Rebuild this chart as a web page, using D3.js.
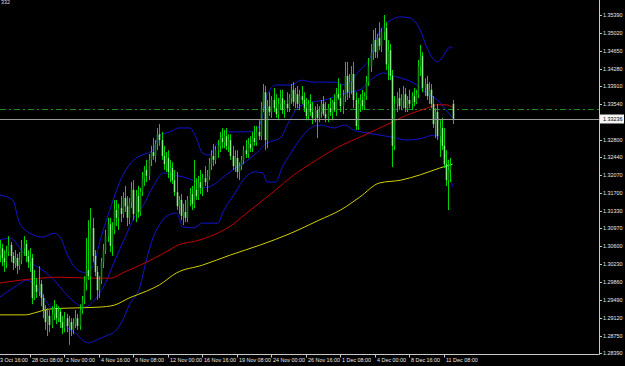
<!DOCTYPE html>
<style>
body { margin: 0; background: #000; }
svg { display: block; font-family: 'Liberation Sans', Arial, sans-serif; }
</style>
<svg width="625" height="366"></svg>
<script src="https://d3js.org/d3.v7.min.js"></script>
<script>
// price axis labels (MT4 style, right side)
var priceTicks = [1.35390, 1.35020, 1.34650, 1.34280, 1.33910, 1.33540, 1.32800, 1.32440,
  1.32070, 1.31700, 1.31330, 1.30970, 1.30600, 1.30230, 1.29860, 1.29490, 1.29120, 1.28750, 1.28390];

// time axis labels and the bar each one sits on
var timeLabels = ["23 Oct 16:00", "28 Oct 08:00", "2 Nov 00:00", "4 Nov 16:00", "9 Nov 08:00",
  "12 Nov 00:00", "16 Nov 16:00", "19 Nov 08:00", "24 Nov 00:00", "26 Nov 16:00",
  "1 Dec 08:00", "4 Dec 00:00", "8 Dec 16:00", "11 Dec 08:00"];
var timeBars = [-2, 14, 30, 46, 62, 78, 94, 110, 126, 142, 158, 174, 190, 206];

var currentPrice = 1.33236;
var hLineLevel = 1.3344;

// H4 candles: open, high, low, close
var candles = [
  [1.3042,1.3073,1.3027,1.3056],[1.3056,1.3065,1.3019,1.3036],[1.3036,1.3052,1.3007,1.3027],[1.3027,1.3061,1.3015,1.3048],
  [1.3048,1.3081,1.3040,1.3063],[1.3063,1.3069,1.3027,1.3040],[1.3040,1.3048,1.3011,1.3025],[1.3025,1.3052,1.3015,1.3036],
  [1.3036,1.3044,1.3003,1.3019],[1.3019,1.3048,1.3011,1.3032],[1.3032,1.3073,1.3023,1.3056],[1.3056,1.3081,1.3040,1.3065],
  [1.3065,1.3073,1.3027,1.3040],[1.3040,1.3052,1.3015,1.3027],[1.3027,1.3056,1.3007,1.3036],[1.3036,1.3044,1.2940,1.2953],
  [1.2953,1.3011,1.2949,1.2980],[1.2980,1.2994,1.2953,1.2965],[1.2965,1.3019,1.2957,1.2982],[1.2982,1.2990,1.2936,1.2953],
  [1.2953,1.2961,1.2911,1.2928],[1.2928,1.2938,1.2887,1.2903],[1.2903,1.2932,1.2874,1.2916],[1.2916,1.2928,1.2882,1.2897],
  [1.2897,1.2936,1.2891,1.2920],[1.2920,1.2949,1.2907,1.2932],[1.2932,1.2940,1.2899,1.2911],[1.2911,1.2936,1.2903,1.2924],
  [1.2924,1.2932,1.2891,1.2903],[1.2903,1.2916,1.2878,1.2891],[1.2891,1.2924,1.2882,1.2911],[1.2911,1.2920,1.2882,1.2895],
  [1.2895,1.2916,1.2856,1.2903],[1.2903,1.2911,1.2874,1.2887],[1.2887,1.2911,1.2878,1.2899],[1.2899,1.2928,1.2891,1.2911],
  [1.2911,1.2920,1.2887,1.2895],[1.2895,1.2940,1.2887,1.2928],[1.2928,1.2957,1.2920,1.2949],[1.2949,1.2998,1.2940,1.2986],
  [1.2986,1.3077,1.2969,1.3011],[1.3011,1.3114,1.2990,1.2998],[1.2998,1.3139,1.2949,1.3098],[1.3098,1.3119,1.3027,1.3040],
  [1.3040,1.3052,1.2998,1.3007],[1.3007,1.3019,1.2949,1.2969],[1.2969,1.2998,1.2953,1.2990],[1.2990,1.3036,1.2982,1.3027],
  [1.3027,1.3065,1.3015,1.3052],[1.3052,1.3094,1.3044,1.3081],[1.3081,1.3119,1.3069,1.3106],[1.3106,1.3119,1.3048,1.3061],
  [1.3061,1.3110,1.3040,1.3094],[1.3094,1.3156,1.3085,1.3135],[1.3135,1.3156,1.3102,1.3119],[1.3119,1.3148,1.3094,1.3139],
  [1.3139,1.3164,1.3110,1.3127],[1.3127,1.3172,1.3119,1.3160],[1.3160,1.3185,1.3131,1.3143],[1.3143,1.3164,1.3102,1.3119],
  [1.3119,1.3160,1.3106,1.3152],[1.3152,1.3193,1.3139,1.3177],[1.3177,1.3197,1.3114,1.3127],[1.3127,1.3177,1.3110,1.3164],
  [1.3164,1.3185,1.3119,1.3131],[1.3131,1.3181,1.3123,1.3172],[1.3172,1.3214,1.3164,1.3201],[1.3201,1.3226,1.3185,1.3218],
  [1.3218,1.3239,1.3193,1.3206],[1.3206,1.3251,1.3197,1.3239],[1.3239,1.3268,1.3226,1.3255],[1.3255,1.3284,1.3239,1.3247],
  [1.3247,1.3280,1.3234,1.3272],[1.3272,1.3305,1.3259,1.3292],[1.3292,1.3313,1.3268,1.3280],[1.3280,1.3297,1.3239,1.3247],
  [1.3247,1.3268,1.3218,1.3230],[1.3230,1.3255,1.3214,1.3243],[1.3243,1.3259,1.3201,1.3214],[1.3214,1.3239,1.3193,1.3222],
  [1.3222,1.3234,1.3189,1.3197],[1.3197,1.3218,1.3164,1.3172],[1.3172,1.3214,1.3135,1.3143],[1.3143,1.3164,1.3127,1.3156],
  [1.3156,1.3168,1.3114,1.3123],[1.3123,1.3148,1.3104,1.3131],[1.3131,1.3156,1.3110,1.3119],[1.3119,1.3164,1.3110,1.3156],
  [1.3156,1.3181,1.3143,1.3168],[1.3168,1.3185,1.3135,1.3148],[1.3148,1.3239,1.3139,1.3177],[1.3177,1.3201,1.3156,1.3164],
  [1.3164,1.3206,1.3156,1.3193],[1.3193,1.3218,1.3168,1.3181],[1.3181,1.3210,1.3164,1.3201],[1.3201,1.3226,1.3185,1.3193],
  [1.3193,1.3218,1.3172,1.3206],[1.3206,1.3243,1.3197,1.3230],[1.3230,1.3259,1.3218,1.3247],[1.3247,1.3272,1.3226,1.3239],
  [1.3239,1.3268,1.3230,1.3259],[1.3259,1.3280,1.3243,1.3268],[1.3268,1.3297,1.3255,1.3284],[1.3284,1.3305,1.3263,1.3276],
  [1.3276,1.3301,1.3263,1.3288],[1.3288,1.3305,1.3259,1.3268],[1.3268,1.3292,1.3255,1.3280],[1.3280,1.3292,1.3239,1.3247],
  [1.3247,1.3268,1.3218,1.3226],[1.3226,1.3259,1.3214,1.3243],[1.3243,1.3259,1.3201,1.3214],[1.3214,1.3234,1.3197,1.3226],
  [1.3226,1.3247,1.3218,1.3239],[1.3239,1.3268,1.3230,1.3259],[1.3259,1.3280,1.3243,1.3251],[1.3251,1.3284,1.3243,1.3272],
  [1.3272,1.3288,1.3255,1.3263],[1.3263,1.3297,1.3255,1.3284],[1.3284,1.3309,1.3268,1.3276],[1.3276,1.3309,1.3268,1.3297],
  [1.3297,1.3321,1.3280,1.3288],[1.3288,1.3359,1.3280,1.3346],[1.3346,1.3396,1.3338,1.3379],[1.3379,1.3392,1.3259,1.3280],
  [1.3280,1.3363,1.3263,1.3350],[1.3350,1.3379,1.3330,1.3338],[1.3338,1.3371,1.3326,1.3363],[1.3363,1.3388,1.3338,1.3346],
  [1.3346,1.3375,1.3326,1.3334],[1.3334,1.3367,1.3321,1.3355],[1.3355,1.3384,1.3342,1.3367],[1.3367,1.3384,1.3334,1.3342],
  [1.3342,1.3363,1.3326,1.3355],[1.3355,1.3379,1.3338,1.3346],[1.3346,1.3375,1.3338,1.3367],[1.3367,1.3396,1.3355,1.3384],
  [1.3384,1.3400,1.3350,1.3359],[1.3359,1.3388,1.3346,1.3375],[1.3375,1.3392,1.3346,1.3355],[1.3355,1.3384,1.3342,1.3371],
  [1.3371,1.3392,1.3355,1.3363],[1.3363,1.3379,1.3338,1.3346],[1.3346,1.3367,1.3321,1.3330],[1.3330,1.3363,1.3321,1.3355],
  [1.3355,1.3375,1.3330,1.3338],[1.3338,1.3359,1.3313,1.3326],[1.3326,1.3350,1.3317,1.3342],[1.3342,1.3355,1.3284,1.3326],
  [1.3326,1.3350,1.3317,1.3338],[1.3338,1.3363,1.3326,1.3355],[1.3355,1.3371,1.3330,1.3334],[1.3334,1.3359,1.3317,1.3326],
  [1.3326,1.3355,1.3317,1.3346],[1.3346,1.3367,1.3330,1.3338],[1.3338,1.3363,1.3321,1.3359],[1.3359,1.3375,1.3338,1.3342],
  [1.3342,1.3388,1.3330,1.3375],[1.3375,1.3408,1.3363,1.3367],[1.3367,1.3396,1.3338,1.3350],[1.3350,1.3384,1.3334,1.3371],
  [1.3371,1.3442,1.3359,1.3413],[1.3413,1.3442,1.3363,1.3379],[1.3379,1.3417,1.3367,1.3400],[1.3400,1.3433,1.3375,1.3417],
  [1.3417,1.3442,1.3346,1.3363],[1.3363,1.3379,1.3301,1.3309],[1.3309,1.3367,1.3301,1.3355],[1.3355,1.3375,1.3338,1.3363],
  [1.3363,1.3384,1.3342,1.3350],[1.3350,1.3379,1.3342,1.3371],[1.3371,1.3413,1.3363,1.3400],[1.3400,1.3450,1.3392,1.3433],
  [1.3433,1.3479,1.3421,1.3462],[1.3462,1.3508,1.3446,1.3487],[1.3487,1.3512,1.3450,1.3462],[1.3462,1.3500,1.3450,1.3491],
  [1.3491,1.3524,1.3466,1.3475],[1.3475,1.3512,1.3462,1.3504],[1.3504,1.3539,1.3487,1.3512],[1.3512,1.3524,1.3425,1.3437],
  [1.3437,1.3487,1.3404,1.3466],[1.3466,1.3479,1.3404,1.3413],[1.3413,1.3425,1.3224,1.3268],[1.3268,1.3371,1.3259,1.3355],
  [1.3355,1.3379,1.3338,1.3367],[1.3367,1.3388,1.3342,1.3350],[1.3350,1.3375,1.3342,1.3363],[1.3363,1.3392,1.3346,1.3375],
  [1.3375,1.3388,1.3338,1.3346],[1.3346,1.3371,1.3338,1.3363],[1.3363,1.3384,1.3346,1.3355],[1.3355,1.3379,1.3342,1.3371],
  [1.3371,1.3388,1.3350,1.3359],[1.3359,1.3384,1.3355,1.3375],[1.3375,1.3446,1.3367,1.3433],[1.3433,1.3477,1.3413,1.3454],
  [1.3454,1.3462,1.3379,1.3388],[1.3388,1.3408,1.3371,1.3396],[1.3396,1.3413,1.3363,1.3371],[1.3371,1.3400,1.3355,1.3384],
  [1.3384,1.3396,1.3346,1.3355],[1.3355,1.3371,1.3305,1.3313],[1.3313,1.3346,1.3284,1.3338],[1.3338,1.3355,1.3280,1.3288],
  [1.3288,1.3321,1.3245,1.3305],[1.3305,1.3326,1.3259,1.3268],[1.3268,1.3305,1.3222,1.3230],[1.3230,1.3259,1.3185,1.3197],
  [1.3197,1.3239,1.3135,1.3218],[1.3218,1.3243,1.3193,1.3226],[1.3355,1.3363,1.3313,1.3324]
];

// indicator lines, read at sample bars: [bar, price]
var maRed = [[0,1.2984],[14,1.2992],[28,1.2996],[42,1.2994],[51,1.2994],[58,1.3007],[68,1.3027],[77,1.3048],
  [83,1.3063],[91,1.3071],[100,1.3085],[107,1.3102],[114,1.3127],[120,1.3148],[128,1.3177],[135,1.3203],
  [147,1.3239],[158,1.3268],[167,1.3286],[181,1.3315],[189,1.3332],[198,1.3346],[203,1.3353],[207,1.3353],[210,1.3348]];
var maYellow = [[0,1.2918],[12,1.2918],[16,1.2922],[23,1.2930],[32,1.2932],[46,1.2934],[53,1.2938],[60,1.2953],
  [68,1.2967],[74,1.2980],[82,1.3005],[94,1.3021],[107,1.3042],[121,1.3063],[135,1.3087],[148,1.3114],
  [158,1.3135],[167,1.3162],[176,1.3191],[186,1.3197],[195,1.3208],[204,1.3222],[210,1.3230]];
var bbUpper = [[0,1.3166],[6,1.3156],[9,1.3110],[14,1.3087],[20,1.3079],[25,1.3087],[28,1.3079],[31,1.3046],
  [36,1.3011],[40,1.3005],[44,1.3027],[46,1.3063],[51,1.3135],[56,1.3197],[60,1.3228],[64,1.3245],[66,1.3249],
  [71,1.3259],[74,1.3290],[79,1.3297],[83,1.3305],[88,1.3305],[91,1.3286],[94,1.3253],[97,1.3249],[101,1.3274],
  [105,1.3297],[115,1.3297],[119,1.3301],[122,1.3332],[124,1.3373],[128,1.3394],[135,1.3394],[140,1.3404],
  [145,1.3400],[155,1.3400],[160,1.3394],[167,1.3425],[172,1.3452],[175,1.3493],[179,1.3520],[186,1.3535],
  [190,1.3533],[195,1.3508],[198,1.3473],[203,1.3442],[205,1.3450],[209,1.3473],[210,1.3471]];
var bbMiddle = [[0,1.3073],[5,1.3077],[9,1.3058],[15,1.3025],[21,1.3007],[26,1.2986],[30,1.2965],[35,1.2943],
  [39,1.2934],[44,1.2949],[49,1.2984],[53,1.3027],[58,1.3077],[63,1.3125],[66,1.3141],[71,1.3183],[76,1.3212],
  [80,1.3208],[87,1.3201],[91,1.3193],[94,1.3181],[99,1.3187],[103,1.3201],[108,1.3218],[113,1.3232],[119,1.3253],
  [124,1.3274],[130,1.3284],[134,1.3317],[138,1.3346],[145,1.3359],[151,1.3363],[157,1.3373],[162,1.3379],
  [167,1.3384],[173,1.3408],[178,1.3419],[184,1.3411],[192,1.3398],[198,1.3377],[203,1.3363],[207,1.3342],[210,1.3326]];
var bbLower = [[0,1.2955],[7,1.2976],[13,1.2990],[16,1.2980],[21,1.2949],[26,1.2919],[31,1.2893],[35,1.2880],
  [41,1.2860],[45,1.2866],[50,1.2876],[53,1.2882],[57,1.2907],[60,1.2938],[65,1.2976],[68,1.3032],[71,1.3077],
  [74,1.3104],[77,1.3121],[82,1.3129],[85,1.3100],[90,1.3098],[94,1.3108],[101,1.3108],[104,1.3135],[109,1.3170],
  [114,1.3203],[118,1.3214],[122,1.3212],[124,1.3193],[128,1.3193],[131,1.3224],[135,1.3253],[140,1.3286],
  [145,1.3307],[149,1.3311],[155,1.3305],[160,1.3311],[164,1.3301],[170,1.3295],[182,1.3286],[189,1.3280],
  [196,1.3284],[201,1.3290],[204,1.3284],[207,1.3245],[210,1.3183]];

var svg = d3.select("svg"),
    plotRight = 599,
    plotBottom = 354;

var x = d3.scaleLinear().domain([0, 210]).range([-0.2, 452.56]);
var y = d3.scaleLinear().domain([1.28390, 1.35390]).range([353, 15]);

svg.append("rect").attr("width", 625).attr("height", 366).attr("fill", "#000");

var plot = svg.append("g");

// horizontal line object (dash-dot)
plot.append("line")
    .attr("x1", 0).attr("x2", plotRight)
    .attr("y1", Math.round(y(hLineLevel)) + 0.5).attr("y2", Math.round(y(hLineLevel)) + 0.5)
    .attr("stroke", "#1c8c1c")
    .attr("stroke-dasharray", "6,3,2,3");

// indicator lines
var line = d3.line()
    .x(function(d) { return x(d[0]); })
    .y(function(d) { return y(d[1]); })
    .curve(d3.curveMonotoneX);

[[bbUpper, "#1414d0"], [bbMiddle, "#1414d0"], [bbLower, "#1414d0"],
 [maRed, "#c00000"], [maYellow, "#d0d000"]].forEach(function(s) {
  plot.append("path")
      .attr("d", line(s[0]))
      .attr("fill", "none")
      .attr("stroke", s[1])
      .attr("stroke-width", 1);
});

// candles
var bars = plot.append("g").selectAll("g")
    .data(candles)
    .enter().append("g");

bars.append("line")
    .attr("x1", function(d, i) { return Math.round(x(i)) + 0.5; })
    .attr("x2", function(d, i) { return Math.round(x(i)) + 0.5; })
    .attr("y1", function(d) { return y(d[1]); })
    .attr("y2", function(d) { return y(d[2]); })
    .attr("stroke", "#00d400")
    .attr("stroke-width", 1);

bars.append("rect")
    .attr("x", function(d, i) { return Math.round(x(i)) - 0.3; })
    .attr("width", 1.6)
    .attr("y", function(d) { return y(Math.max(d[0], d[3])); })
    .attr("height", function(d) { return Math.max(1, Math.abs(y(d[0]) - y(d[3]))); })
    .attr("fill", function(d) { return d[3] >= d[0] ? "#128a12" : "#86ec86"; });

// current price line
plot.append("line")
    .attr("x1", 0).attr("x2", plotRight)
    .attr("y1", Math.round(y(currentPrice)) + 0.5).attr("y2", Math.round(y(currentPrice)) + 0.5)
    .attr("stroke", "#9c9c9c");

// axes frame
svg.append("line")
    .attr("x1", plotRight + 0.5).attr("x2", plotRight + 0.5)
    .attr("y1", 0).attr("y2", plotBottom + 0.5)
    .attr("stroke", "#c8c8c8");
svg.append("line")
    .attr("x1", 0).attr("x2", plotRight + 0.5)
    .attr("y1", plotBottom + 0.5).attr("y2", plotBottom + 0.5)
    .attr("stroke", "#c8c8c8");

// price labels
var pt = svg.append("g").selectAll("g")
    .data(priceTicks)
    .enter().append("g")
    .attr("transform", function(d) { return "translate(" + plotRight + "," + Math.round(y(d)) + ")"; });
pt.append("line").attr("x1", 1).attr("x2", 3).attr("y1", 0.5).attr("y2", 0.5).attr("stroke", "#c8c8c8");
pt.append("text")
    .attr("x", 4).attr("dy", "0.35em")
    .attr("font-size", 5.4)
    .attr("fill", "#e8e8e8")
    .text(function(d) { return d.toFixed(5); });

// current price box
var cy = Math.round(y(currentPrice));
svg.append("rect")
    .attr("x", plotRight + 1).attr("y", cy - 4.5)
    .attr("width", 24).attr("height", 9)
    .attr("fill", "#f4f4f4");
svg.append("text")
    .attr("x", plotRight + 4).attr("y", cy).attr("dy", "0.35em")
    .attr("font-size", 5.4)
    .attr("fill", "#000")
    .text(currentPrice.toFixed(5));

// time labels
var tt = svg.append("g").selectAll("g")
    .data(timeLabels)
    .enter().append("g")
    .attr("transform", function(d, i) { return "translate(" + (Math.round(x(timeBars[i])) + 0.5) + "," + plotBottom + ")"; });
tt.append("line").attr("y1", 1).attr("y2", 3.5).attr("stroke", "#c8c8c8");
tt.append("text")
    .attr("x", 1.5).attr("y", 7.5)
    .attr("font-size", 5.4)
    .attr("fill", "#e8e8e8")
    .text(function(d) { return d; });

// clipped symbol caption in the corner
svg.append("text")
    .attr("x", 1).attr("y", 3.5)
    .attr("font-size", 5.4)
    .attr("fill", "#d8d8f0")
    .text("332");
</script>
